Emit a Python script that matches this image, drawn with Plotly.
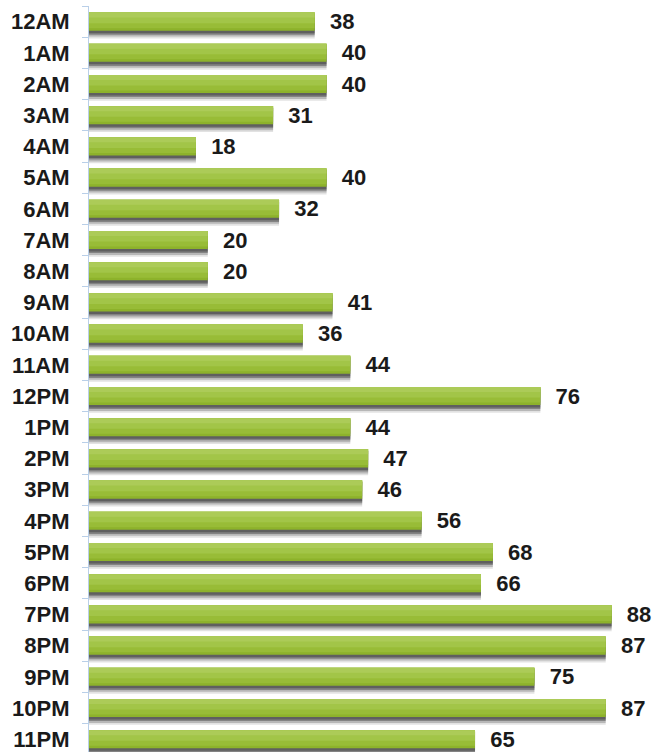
import plotly.graph_objects as go

hours = ["12AM", "1AM", "2AM", "3AM", "4AM", "5AM", "6AM", "7AM", "8AM", "9AM", "10AM", "11AM",
         "12PM", "1PM", "2PM", "3PM", "4PM", "5PM", "6PM", "7PM", "8PM", "9PM", "10PM", "11PM"]
counts = [38, 40, 40, 31, 18, 40, 32, 20, 20, 41, 36, 44,
          76, 44, 47, 46, 56, 68, 66, 88, 87, 75, 87, 65]

font_bold = dict(family="Liberation Sans, Arial, sans-serif", size=22, color="#1a1a1a", weight="bold")

fig = go.Figure()

# soft shadow layers
fig.add_trace(go.Bar(y=hours, x=counts, orientation="h", offset=-0.24, width=0.78,
                     marker=dict(color="rgba(160,160,160,0.30)", line=dict(width=0)),
                     hoverinfo="skip", showlegend=False))
fig.add_trace(go.Bar(y=hours, x=counts, orientation="h", offset=-0.24, width=0.72,
                     marker=dict(color="rgba(120,120,120,0.40)", line=dict(width=0)),
                     hoverinfo="skip", showlegend=False))
fig.add_trace(go.Bar(y=hours, x=counts, orientation="h", offset=-0.24, width=0.66,
                     marker=dict(color="rgba(80,80,80,0.50)", line=dict(width=0)),
                     hoverinfo="skip", showlegend=False))
fig.add_trace(go.Bar(y=hours, x=counts, orientation="h", offset=-0.24, width=0.61,
                     marker=dict(color="rgba(50,50,50,0.45)", line=dict(width=0)),
                     hoverinfo="skip", showlegend=False))
# main bars
fig.add_trace(go.Bar(y=hours, x=counts, orientation="h", offset=-0.29, width=0.58,
                     marker=dict(color="#8db22b", line=dict(width=0)),
                     text=counts, texttemplate="\u00a0\u00a0%{x}", textposition="outside",
                     textfont=font_bold, constraintext="none", cliponaxis=False, showlegend=False))
# gradient highlight
fig.add_trace(go.Bar(y=hours, x=counts, orientation="h", offset=-0.29, width=0.50,
                     marker=dict(color="#98bc37", line=dict(width=0)),
                     hoverinfo="skip", showlegend=False))
fig.add_trace(go.Bar(y=hours, x=counts, orientation="h", offset=-0.29, width=0.34,
                     marker=dict(color="#a2c548", line=dict(width=0)),
                     hoverinfo="skip", showlegend=False))
fig.add_trace(go.Bar(y=hours, x=counts, orientation="h", offset=-0.29, width=0.16,
                     marker=dict(color="#accb58", line=dict(width=0)),
                     hoverinfo="skip", showlegend=False))

fig.update_layout(
    width=652, height=752,
    margin=dict(l=89, r=0, t=6, b=0, autoexpand=False),
    paper_bgcolor="white", plot_bgcolor="white",
    barmode="overlay",
    xaxis=dict(range=[0, 94.8], visible=False, showgrid=False, zeroline=False, automargin=False),
    yaxis=dict(type="category", range=[23.41, -0.5], showgrid=False, zeroline=False,
               showline=True, linecolor="#b9cfe8", linewidth=1, automargin=False,
               ticks="outside", tickson="boundaries", ticklen=6, tickcolor="#b9cfe8",
               tickfont=font_bold, ticklabelstandoff=14),
)

fig.write_html("out.html", config={"displayModeBar": False},
               post_script="document.body.style.margin='0px';document.body.style.overflow='hidden';")
